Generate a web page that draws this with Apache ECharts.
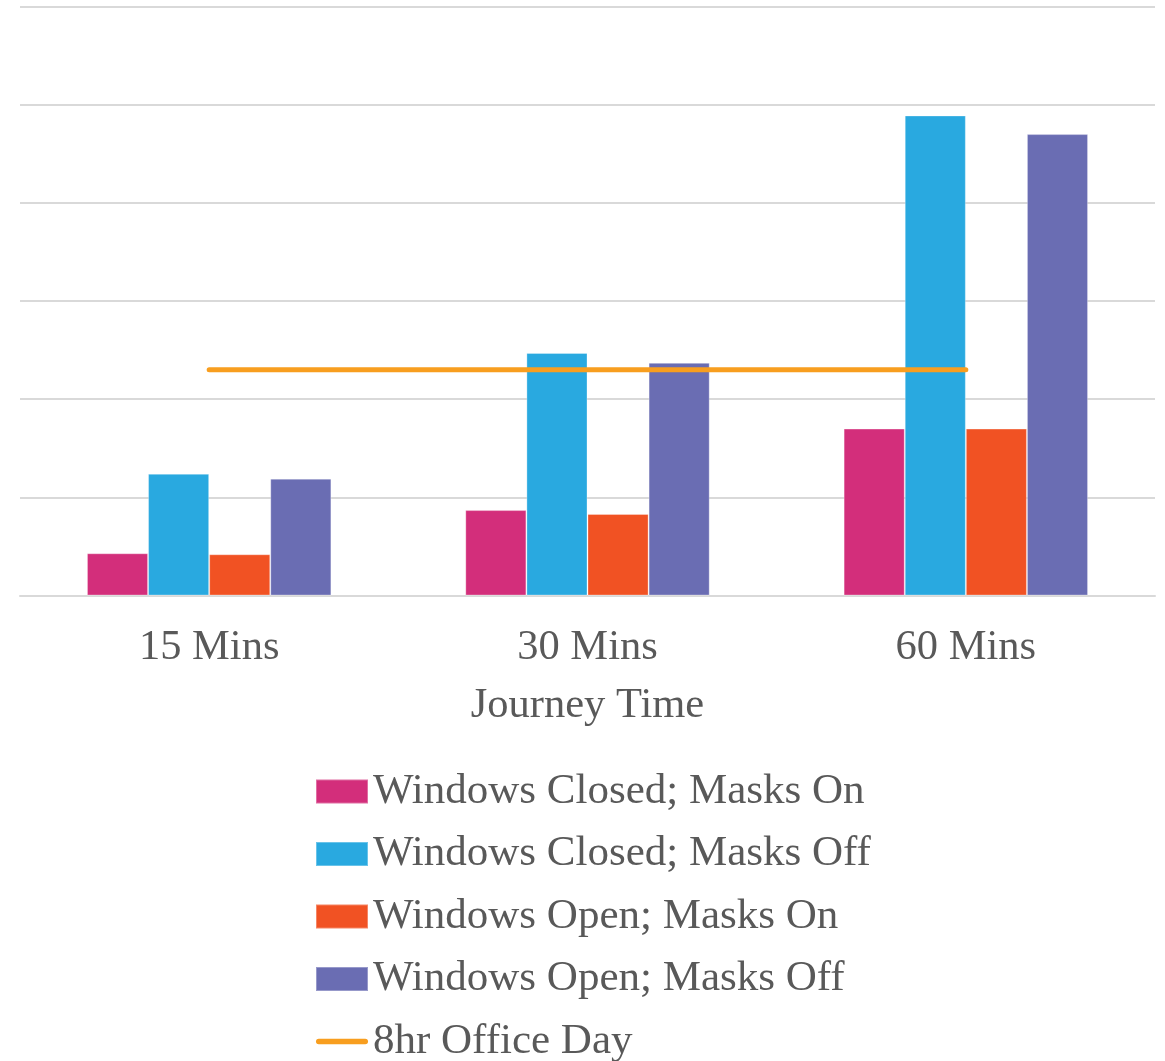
<!DOCTYPE html>
<html>
<head>
<meta charset="utf-8">
<title>Journey Time</title>
<script src="https://cdn.jsdelivr.net/npm/echarts@6/dist/echarts.min.js"></script>
<style>
  html, body { margin: 0; padding: 0; background: #ffffff; }
  #chart { width: 1165px; height: 1061px; }
</style>
</head>
<body>
<div id="chart"></div>
<script>
// Journey time categories
const categories = ['15 Mins', '30 Mins', '60 Mins'];

// Bar series values per journey time
const closedMasksOn  = [0.43, 0.87, 1.70];
const closedMasksOff = [1.24, 2.47, 4.89];
const openMasksOn    = [0.42, 0.83, 1.70];
const openMasksOff   = [1.19, 2.37, 4.70];

// Reference level: a full office day
const officeDay = [2.30, 2.30, 2.30];

const seriesNames = [
  'Windows Closed; Masks On',
  'Windows Closed; Masks Off',
  'Windows Open; Masks On',
  'Windows Open; Masks Off',
  '8hr Office Day'
];

const colors = ['#D32E7B', '#29A9E0', '#F15223', '#6A6DB3', '#F89E1F'];
const textColor = '#595959';
const fontFamily = '"Liberation Serif", "Times New Roman", serif';
const gridColor = '#D9D9D9';

const barValues = [closedMasksOn, closedMasksOff, openMasksOn, openMasksOff];

const chart = echarts.init(document.getElementById('chart'), null, { renderer: 'canvas' });

const barSeries = barValues.map((vals, i) => ({
  name: seriesNames[i],
  type: 'bar',
  data: vals,
  barGap: '0%',
  barCategoryGap: '35.4%',
  itemStyle: {
    color: colors[i],
    borderColor: 'rgba(255,255,255,0.3)',
    borderWidth: 1
  },
  emphasis: { disabled: true }
}));

const option = {
  animation: false,
  backgroundColor: '#ffffff',
  textStyle: { fontFamily: fontFamily, color: textColor },
  grid: {
    left: 20,
    right: 10,
    top: 6.5,
    bottom: 1061 - 595.5,
    containLabel: false
  },
  xAxis: {
    type: 'category',
    data: categories,
    name: 'Journey Time',
    nameLocation: 'middle',
    nameGap: 89,
    nameTextStyle: { fontSize: 42.5, color: textColor, fontFamily: fontFamily },
    axisLine: { show: true, lineStyle: { color: gridColor, width: 2 } },
    axisTick: { show: false },
    axisLabel: {
      fontSize: 42.5,
      color: textColor,
      fontFamily: fontFamily,
      margin: 31
    }
  },
  yAxis: {
    type: 'value',
    min: 0,
    max: 6,
    interval: 1,
    axisLabel: { show: false },
    axisLine: { show: false },
    axisTick: { show: false },
    splitLine: { show: true, lineStyle: { color: gridColor, width: 2 } }
  },
  legend: {
    orient: 'vertical',
    left: 315,
    top: 770,
    height: 340,
    padding: 0,
    itemWidth: 52,
    itemHeight: 24,
    itemGap: 19.5,
    itemTextGap: 6,
    textStyle: {
      fontSize: 43,
      color: textColor,
      fontFamily: fontFamily
    },
    selectedMode: false,
    data: [
      { name: seriesNames[0], icon: 'rect' },
      { name: seriesNames[1], icon: 'rect' },
      { name: seriesNames[2], icon: 'rect' },
      { name: seriesNames[3], icon: 'rect' },
      {
        name: seriesNames[4],
        icon: 'path://M3,0 H54 A3,3 0 0 1 54,6 H3 A3,3 0 0 1 3,0 Z',
        itemStyle: { color: colors[4] }
      }
    ]
  },
  series: barSeries.concat([{
    name: seriesNames[4],
    type: 'line',
    data: officeDay,
    symbol: 'none',
    z: 5,
    lineStyle: { color: colors[4], width: 5, cap: 'round' },
    itemStyle: { color: colors[4] },
    emphasis: { disabled: true }
  }])
};

chart.setOption(option);
</script>
</body>
</html>
